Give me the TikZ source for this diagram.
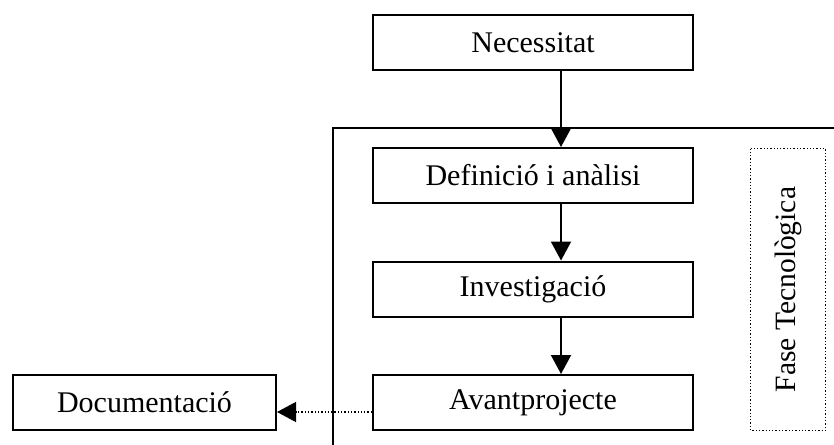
\documentclass[tikz,border=0pt]{standalone}
\usepackage{fontspec}
\setmainfont{Liberation Serif}
\usetikzlibrary{arrows.meta}
\begin{document}
\begin{tikzpicture}[x=1pt,y=-1pt,
  stepbox/.style={draw=black, line width=2pt, minimum width=320pt, minimum height=55pt, inner sep=0pt,
    font=\fontsize{30}{34}\selectfont},
  flow/.style={line width=2pt, -{Triangle[width=20pt,length=19pt]}},
  dotflow/.style={line width=1.3pt, dotted, -{Triangle[width=20pt,length=19pt]}},
  phase/.style={draw=black, line width=1.3pt, dotted, minimum width=282pt, minimum height=75pt, inner sep=0pt,
    font=\fontsize{29.5}{34}\selectfont, rotate=90}]
\useasboundingbox (0,0) rectangle (834,444);
% outer frame (open right and bottom)
\draw[line width=2pt] (333,446) -- (333,128) -- (836,128);
\node[stepbox] (nec) at (533,42.5) {Necessitat};
\node[stepbox] (def) at (533,175.5) {Definició i anàlisi};
\node[stepbox] (inv) at (533,289) {Investigació};
\node[stepbox] (avp) at (533,402.5) {Avantprojecte};
\node[stepbox, minimum width=263pt] (doc) at (144.5,402.5) {Documentació};
\node[phase] (fase) at (788,289.5) {Fase Tecnològica};
\draw[flow] ([xshift=28pt]nec.south) -- ([xshift=28pt]def.north);
\draw[flow] ([xshift=28pt]def.south) -- ([xshift=28pt]inv.north);
\draw[flow] ([xshift=28pt]inv.south) -- ([xshift=28pt]avp.north);
\draw[dotflow] ([yshift=-9.5pt]avp.west) -- ([yshift=-9.5pt]doc.east);
\end{tikzpicture}
\end{document}
